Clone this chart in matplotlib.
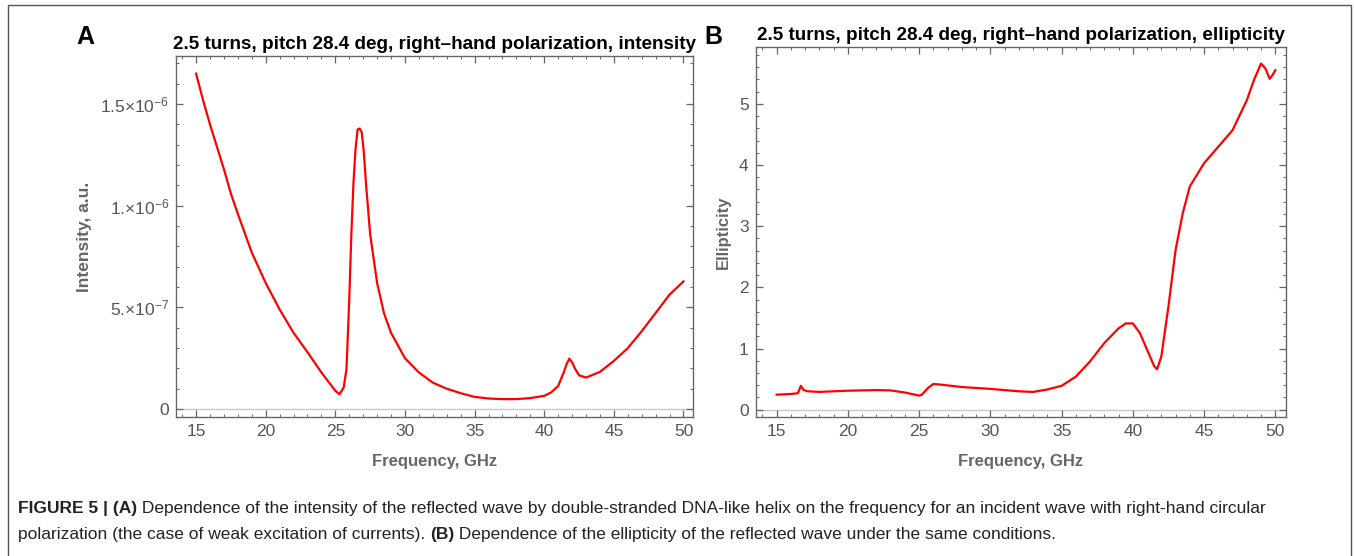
import matplotlib
matplotlib.use('Agg')
import matplotlib.pyplot as plt
from matplotlib.ticker import MultipleLocator, FixedLocator, FixedFormatter
from matplotlib.patches import Rectangle

plt.rcParams['font.family'] = ['Liberation Sans', 'DejaVu Sans']
plt.rcParams['mathtext.default'] = 'regular'

# Panel A: reflected intensity vs frequency
freq_a = [15, 15.5, 16, 16.5, 17, 17.5, 18, 19, 20, 21, 22, 23, 24, 24.5, 25, 25.3,
          25.6, 25.8, 26.0, 26.15, 26.3, 26.45, 26.6, 26.75, 26.9, 27.05, 27.2, 27.5,
          28, 28.5, 29, 30, 31, 32, 33, 34, 35, 36, 37, 38, 39, 40, 40.5, 41, 41.4,
          41.6, 41.8, 42.0, 42.2, 42.5, 43, 44, 45, 46, 47, 48, 49, 50]
intensity = [16.5, 15.2, 14.0, 12.9, 11.8, 10.6, 9.6, 7.7, 6.2, 4.9, 3.75, 2.8, 1.8,
             1.35, 0.9, 0.73, 1.06, 1.96, 5.4, 8.6, 11.1, 12.8, 13.75, 13.8, 13.6,
             12.6, 11.1, 8.6, 6.2, 4.7, 3.75, 2.5, 1.8, 1.3, 1.0, 0.78, 0.6, 0.52, 0.49,
             0.49, 0.54, 0.65, 0.82, 1.14, 1.8, 2.2, 2.48, 2.3, 2.0, 1.66, 1.55, 1.83,
             2.37, 3.0, 3.83, 4.73, 5.63, 6.28]
intensity = [v * 1e-7 for v in intensity]

# Panel B: ellipticity vs frequency
freq_b = [15, 16, 16.5, 16.7, 16.9, 17.2, 18, 20, 22, 23, 24, 25, 25.2, 25.6, 26, 26.5,
          28, 30, 32, 33, 34, 35, 36, 37, 38, 39, 39.5, 40, 40.5, 41, 41.5, 41.7, 42,
          42.5, 43, 43.5, 44, 45, 46, 47, 48, 48.5, 49, 49.3, 49.6, 49.8, 50]
ellipticity = [0.245, 0.256, 0.27, 0.39, 0.32, 0.30, 0.29, 0.31, 0.32, 0.315, 0.28, 0.23,
               0.245, 0.35, 0.42, 0.41, 0.37, 0.34, 0.30, 0.29, 0.33, 0.39, 0.54, 0.79,
               1.09, 1.33, 1.41, 1.41, 1.25, 0.98, 0.71, 0.66, 0.87, 1.69, 2.61, 3.21,
               3.65, 4.03, 4.30, 4.57, 5.06, 5.39, 5.66, 5.58, 5.41, 5.47, 5.55]

x_ticks = [15, 20, 25, 30, 35, 40, 45, 50]
int_ticks = [0, 5e-7, 1e-6, 1.5e-6]
int_tick_labels = ['0', '5.×10$^{-7}$', '1.×10$^{-6}$', '1.5×10$^{-6}$']
ell_ticks = [0, 1, 2, 3, 4, 5]

tick_col = '#555555'
frame_col = '#666666'


def style_axes(ax):
    for s in ax.spines.values():
        s.set_color(frame_col)
        s.set_linewidth(1.0)
    ax.tick_params(which='both', direction='in', top=True, right=True,
                   colors=frame_col, labelcolor=tick_col, labelsize=12.5)
    ax.tick_params(which='major', length=5, width=0.9, pad=5)
    ax.tick_params(which='minor', length=2.5, width=0.7)
    ax.axhline(0, color='#c8c8c8', lw=1.0, zorder=1)
    ax.xaxis.set_major_locator(FixedLocator(x_ticks))
    ax.xaxis.set_minor_locator(MultipleLocator(1))
    ax.set_xlabel('Frequency, GHz', fontsize=12, fontweight='bold', color='#666666', labelpad=11)


fig = plt.figure(figsize=(13.54, 5.56), dpi=100)

# outer frame around the figure
fig.patches.append(Rectangle((0.006, -0.1), 0.992, 1.0915, transform=fig.transFigure,
                             fill=False, edgecolor='#555555', lw=1.0))

ax_a = fig.add_axes([0.130, 0.250, 0.382, 0.649])
ax_a.plot(freq_a, intensity, color='red', lw=1.6, zorder=3)
ax_a.set_xlim(13.56, 50.7)
ax_a.set_ylim(-0.39e-7, 17.36e-7)
style_axes(ax_a)
ax_a.yaxis.set_major_locator(FixedLocator(int_ticks))
ax_a.yaxis.set_major_formatter(FixedFormatter(int_tick_labels))
ax_a.yaxis.set_minor_locator(MultipleLocator(1e-7))
ax_a.set_ylabel('Intensity, a.u.', fontsize=12.5, fontweight='bold', color='#666666', labelpad=6)
ax_a.set_title('2.5 turns, pitch 28.4 deg, right–hand polarization, intensity',
               fontsize=13.6, fontweight='bold', pad=5)

ax_b = fig.add_axes([0.558, 0.250, 0.392, 0.6655])
ax_b.plot(freq_b, ellipticity, color='red', lw=1.6, zorder=3)
ax_b.set_xlim(13.52, 50.77)
ax_b.set_ylim(-0.12, 5.93)
style_axes(ax_b)
ax_b.yaxis.set_major_locator(FixedLocator(ell_ticks))
ax_b.yaxis.set_minor_locator(MultipleLocator(0.2))
ax_b.set_ylabel('Ellipticity', fontsize=12, fontweight='bold', color='#666666', labelpad=6)
ax_b.set_title('2.5 turns, pitch 28.4 deg, right–hand polarization, ellipticity',
               fontsize=13.6, fontweight='bold', pad=5)

# panel letters
fig.text(85 / 1354, 1 - 37 / 556, 'A', fontsize=18, fontweight='bold', ha='center', va='center')
fig.text(713 / 1354, 1 - 37 / 556, 'B', fontsize=18, fontweight='bold', ha='center', va='center')

# caption with mixed bold / regular pieces
line1 = [('FIGURE 5 | (A)', 'bold'),
         (' Dependence of the intensity of the reflected wave by double-stranded DNA-like helix '
          'on the frequency for an incident wave with right-hand circular', 'normal')]
line2 = [('polarization (the case of weak excitation of currents). ', 'normal'),
         ('(B)', 'bold'),
         (' Dependence of the ellipticity of the reflected wave under the same conditions.', 'normal')]

fig.canvas.draw()
renderer = fig.canvas.get_renderer()
for pieces, ypix in [(line1, 508), (line2, 535)]:
    xpix = 18
    for txt, weight in pieces:
        t = fig.text(xpix / 1354, 1 - ypix / 556, txt, fontsize=12.5, fontweight=weight,
                     va='center', ha='left', color='#222222')
        xpix += t.get_window_extent(renderer).width

fig.savefig('out.png', dpi=100)
